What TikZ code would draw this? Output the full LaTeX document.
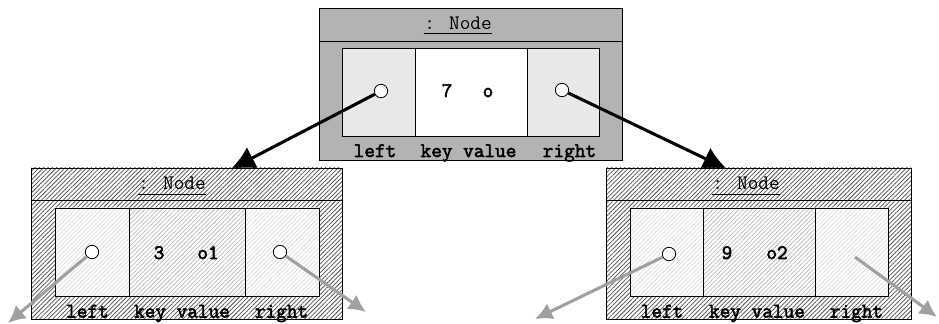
\documentclass[tikz,border=0pt]{standalone}
\usepackage{fontspec}
\newfontfamily\codefont{Latin Modern Mono}
\newfontfamily\boldcode{Latin Modern Mono}[FakeBold=2.5]
\usetikzlibrary{arrows.meta,patterns.meta,positioning}

\definecolor{frame}{HTML}{B3B3B3}
\definecolor{slot}{HTML}{E8E8E8}
\definecolor{hatchdark}{HTML}{505050}
\definecolor{hatchmid}{HTML}{BDBDBD}
\definecolor{hatchlight}{HTML}{DEDEDE}
\definecolor{nilgray}{HTML}{A0A0A0}

\tikzset{
  hatch/.style={preaction={fill=white},pattern={Lines[angle=45,distance=2.3pt,line width=0.55pt]},pattern color=#1},
  ptr/.style={circle,draw,fill=white,inner sep=0pt,minimum size=10pt},
  field/.style={font=\boldcode\fontsize{15.5}{17}\selectfont,anchor=base,inner sep=0pt},
  heading/.style={font=\codefont\fontsize{15.5}{17}\selectfont,anchor=base,inner sep=0pt},
  childarrow/.style={line width=2.3pt,-{Latex[length=18pt,width=18pt]}},
  nilarrow/.style={line width=2.3pt,nilgray,-{Latex[length=13pt,width=13pt]}},
}

\begin{document}
\begin{tikzpicture}[x=0.75pt,y=0.75pt,line width=0.6pt]
  \useasboundingbox (0,0) rectangle (939,324);

  % root object
  \draw[fill=frame] (319,164) rectangle (622,316);
  \draw (319,283) -- (622,283);
  \node[heading] (rootTitle) at (458,294.7) {: Node};
  \draw ([yshift=-3pt]rootTitle.base west) -- ([yshift=-3pt]rootTitle.base east);
  \draw[fill=slot] (342,188) rectangle (415,276);
  \draw[fill=white] (415,188) rectangle (527,276);
  \draw[fill=slot] (527,188) rectangle (599,276);
  \node[ptr] (rootL) at (381,233) {};
  \node[ptr] (rootR) at (562,234) {};
  \node[field] (rootKey) at (447,227) {7};
  \node[field] (rootVal) at (488,227) {o};
  \node[field] (rootLeft) at (375,167) {left};
  \node[field] (rootKV) at (468.5,167) {key value};
  \node[field] (rootRight) at (569.5,167) {right};

  % links down to the children
  \coordinate (leftIn) at (231,155);
  \coordinate (rightIn) at (727,155);
  \draw[childarrow] (rootL) -- (leftIn);
  \draw[childarrow] (rootR) -- (rightIn);

  % left child
  \draw[hatch=hatchdark] (31,5) rectangle (342,156);
  \draw (31,124) -- (342,124);
  \node[heading] (leftTitle) at (172,134) {: Node};
  \draw ([yshift=-3pt]leftTitle.base west) -- ([yshift=-3pt]leftTitle.base east);
  \draw[hatch=hatchlight] (55,28) rectangle (129,116);
  \draw[hatch=hatchmid] (129,28) rectangle (245,116);
  \draw[hatch=hatchlight] (245,28) rectangle (319,116);
  \node[ptr] (leftL) at (92,72) {};
  \node[ptr] (leftR) at (280,72) {};
  \node[field] (leftKey) at (159,65) {3};
  \node[field] (leftVal) at (208,65) {o1};
  \node[field] (leftLeft) at (87.5,6.5) {left};
  \node[field] (leftKV) at (182,6.5) {key value};
  \node[field] (leftRight) at (281.5,6.5) {right};

  % right child
  \draw[hatch=hatchdark] (606,5) rectangle (911,156);
  \draw (606,124) -- (911,124);
  \node[heading] (rightTitle) at (746,134) {: Node};
  \draw ([yshift=-3pt]rightTitle.base west) -- ([yshift=-3pt]rightTitle.base east);
  \draw[hatch=hatchlight] (630,28) rectangle (703,116);
  \draw[hatch=hatchmid] (703,28) rectangle (815,116);
  \draw[hatch=hatchlight] (815,28) rectangle (888,116);
  \node[ptr] (rightL) at (669,70) {};
  \coordinate (rightR) at (855,67);
  \node[field] (rightKey) at (727,65) {9};
  \node[field] (rightVal) at (777,65) {o2};
  \node[field] (rightLeft) at (662,6.5) {left};
  \node[field] (rightKV) at (757,6.5) {key value};
  \node[field] (rightRight) at (856.5,6.5) {right};

  % grandchildren links, off the page
  \coordinate (leftLnil) at (8,1);
  \coordinate (leftRnil) at (366,12);
  \coordinate (rightLnil) at (535,5);
  \coordinate (rightRnil) at (937,7);
  \draw[nilarrow] (leftL) -- (leftLnil);
  \draw[nilarrow] (leftR) -- (leftRnil);
  \draw[nilarrow] (rightL) -- (rightLnil);
  \draw[nilarrow] (rightR) -- (rightRnil);
\end{tikzpicture}
\end{document}
